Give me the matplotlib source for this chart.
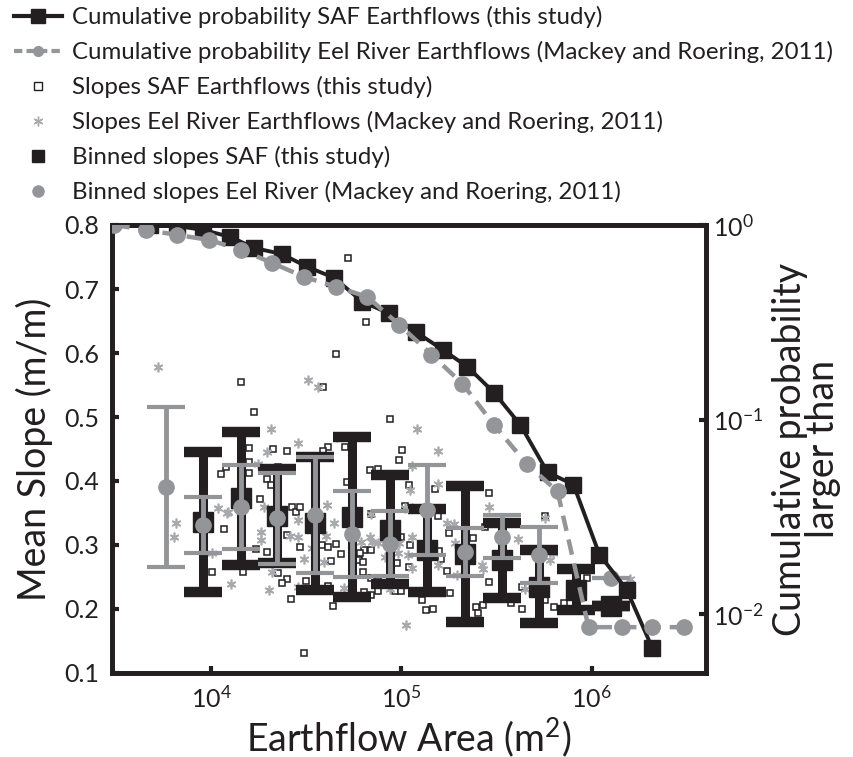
import matplotlib
matplotlib.use("Agg")
import matplotlib.pyplot as plt
from matplotlib.lines import Line2D
from matplotlib.ticker import FixedLocator, NullLocator, FormatStrFormatter

plt.rcParams['font.family'] = ['Lato', 'DejaVu Sans']
plt.rcParams['mathtext.fontset'] = 'custom'
plt.rcParams['mathtext.rm'] = 'Lato'
plt.rcParams['mathtext.it'] = 'Lato'

BLACK = '#231f20'
GRAY = '#939598'
LIGHT = '#a7a9ac'

# cumulative probability (right axis)
saf_cum_area = [4780, 6620, 9080, 12600, 16800, 23400, 32000, 44400, 62300, 85500,
                118600, 164400, 222500, 308500, 422500, 586500, 803500, 1.10e6, 1.53e6, 2.09e6]
saf_cum_p = [1.0, 0.988, 0.943, 0.868, 0.762, 0.710, 0.609, 0.535, 0.403, 0.353,
             0.283, 0.229, 0.187, 0.137, 0.094, 0.0537, 0.0464, 0.0203, 0.0134, 0.0067]

eel_cum_area = [3080, 4550, 6620, 9750, 14400, 20900, 30800, 45500, 66200, 97500,
                143800, 209400, 308500, 454800, 662000, 964000, 1.44e6, 2.09e6, 3.08e6]
eel_cum_p = [1.0, 0.943, 0.889, 0.838, 0.744, 0.638, 0.541, 0.481, 0.427, 0.307,
             0.216, 0.153, 0.0934, 0.0595, 0.0428, 0.0086, 0.0086, 0.0086, 0.0086]

# binned slopes (mean +/- std)
saf_bin_area = [9080, 14400, 22200, 35200, 55200, 87500, 137000, 215000, 336000, 526000, 824000, 1.27e6]
saf_bin_mean = [0.336, 0.373, 0.345, 0.334, 0.344, 0.324, 0.292, 0.286, 0.276, 0.235, 0.230, 0.205]
saf_bin_std = [0.109, 0.104, 0.073, 0.104, 0.125, 0.085, 0.065, 0.106, 0.059, 0.057, 0.032, 0.0]

eel_bin_area = [5800, 9080, 14400, 22200, 35200, 55200, 87500, 137000, 215000, 336000, 526000, 1.27e6]
eel_bin_mean = [0.391, 0.331, 0.359, 0.342, 0.347, 0.317, 0.302, 0.355, 0.289, 0.313, 0.284, 0.248]
eel_bin_std = [0.125, 0.044, 0.066, 0.071, 0.091, 0.067, 0.051, 0.070, 0.038, 0.034, 0.044, 0.0]

# individual earthflows
saf_area = [52600, 64700, 45000, 14400, 38800, 16800, 86500, 101000, 97500, 15700,
            21200, 25100, 41300, 38800, 50700, 15700, 12000, 11300, 15700, 22500,
            26700, 19500, 20500, 18100, 26700, 28000, 29400, 68700, 74800, 110000,
            104000, 69500, 11700, 25100, 38400, 41300, 45500, 29100, 47800, 17100,
            19700, 10100, 14600, 22500, 25100, 23400, 31300, 42800, 41300, 26100,
            43400, 63800, 60800, 69500, 60100, 63100, 62400, 100000, 111000, 109000,
            94200, 69500, 75700, 63800, 69500, 74800, 93000, 100000, 30800, 51400,
            151000, 155000, 290000, 274000, 177000, 237000, 158000, 162000, 173000, 290000,
            181000, 129000, 134000, 146000, 248000, 270000, 254000, 379000, 433000, 428000,
            566000, 631000, 712000, 942000, 566000]
saf_slope = [0.748, 0.648, 0.598, 0.555, 0.547, 0.508, 0.497, 0.448, 0.433, 0.452,
             0.450, 0.447, 0.453, 0.447, 0.453, 0.430, 0.422, 0.411, 0.412, 0.422,
             0.416, 0.403, 0.394, 0.372, 0.359, 0.352, 0.359, 0.417, 0.419, 0.394,
             0.361, 0.348, 0.325, 0.316, 0.300, 0.297, 0.302, 0.297, 0.286, 0.294,
             0.289, 0.258, 0.258, 0.256, 0.247, 0.241, 0.244, 0.275, 0.236, 0.216,
             0.205, 0.292, 0.287, 0.292, 0.277, 0.273, 0.258, 0.313, 0.300, 0.266,
             0.272, 0.248, 0.244, 0.227, 0.222, 0.228, 0.228, 0.228, 0.131, 0.398,
             0.388, 0.345, 0.381, 0.328, 0.319, 0.311, 0.291, 0.278, 0.259, 0.242,
             0.225, 0.214, 0.198, 0.200, 0.203, 0.206, 0.194, 0.209, 0.200, 0.234,
             0.345, 0.203, 0.209, 0.248, 0.214]

eel_area = [5260, 32400, 36600, 20500, 28700, 19700, 46000, 121000, 155000, 113000,
            17500, 12300, 10800, 19000, 6550, 6380, 10100, 18300, 18300, 20900,
            20000, 12700, 28700, 30800, 34000, 40800, 40300, 28400, 25800, 39300,
            44400, 67900, 70300, 74800, 69500, 81500, 95300, 108000, 113000, 104000,
            113000, 105000, 28700, 32800, 50100, 61500, 97500, 114000, 86500, 155000,
            111000, 173000, 188000, 287000, 155000, 192000, 195000, 264000, 270000, 408000,
            566000, 624000, 601000, 444000, 1.60e6, 12100]
eel_slope = [0.578, 0.558, 0.547, 0.481, 0.459, 0.445, 0.469, 0.481, 0.447, 0.423,
             0.427, 0.352, 0.358, 0.359, 0.334, 0.313, 0.288, 0.308, 0.320, 0.258,
             0.230, 0.239, 0.234, 0.278, 0.295, 0.363, 0.314, 0.313, 0.314, 0.273,
             0.334, 0.313, 0.305, 0.303, 0.348, 0.281, 0.288, 0.284, 0.313, 0.358,
             0.358, 0.175, 0.339, 0.336, 0.233, 0.305, 0.303, 0.264, 0.231, 0.395,
             0.386, 0.334, 0.333, 0.359, 0.269, 0.303, 0.253, 0.269, 0.263, 0.309,
             0.342, 0.288, 0.277, 0.231, 0.247, 0.350]

fig = plt.figure(figsize=(8.54, 7.57), dpi=100)
ax = fig.add_axes([112 / 854, 1 - 673 / 757, 594 / 854, 448 / 757])

ax.plot(saf_area, saf_slope, 's', ms=4, mfc='white', mec=BLACK, mew=1.1, zorder=2)
ax.plot(eel_area, eel_slope, marker=(6, 2, 0), ls='none', ms=7, mec=LIGHT, mew=1.2, zorder=2)

ax.errorbar(saf_bin_area, saf_bin_mean, yerr=saf_bin_std, fmt='s', color=BLACK, ms=14,
            elinewidth=6.5, capsize=14, capthick=7.5, zorder=3)
ax.errorbar(eel_bin_area, eel_bin_mean, yerr=eel_bin_std, fmt='o', color=GRAY, ms=11,
            elinewidth=3.5, capsize=14, capthick=3, zorder=4)

ax.set_xscale('log')
ax.set_xlim(3000, 4e6)
ax.set_ylim(0.1, 0.8)
ax.xaxis.set_major_locator(FixedLocator([1e4, 1e5, 1e6]))
ax.xaxis.set_minor_locator(NullLocator())
ax.set_yticks([0.1, 0.2, 0.3, 0.4, 0.5, 0.6, 0.7, 0.8])
ax.yaxis.set_major_formatter(FormatStrFormatter('%.1f'))
ax.tick_params(direction='in', length=5, width=3, labelsize=18, colors=BLACK, pad=9)
ax.set_xlabel('Earthflow Area (m$^2$)', fontsize=27, color=BLACK, labelpad=2)
ax.set_ylabel('Mean Slope (m/m)', fontsize=27, color=BLACK, labelpad=8)

ax2 = ax.twinx()
ax2.plot(saf_cum_area, saf_cum_p, '-s', color=BLACK, lw=2.8, ms=11.5, zorder=5)
ax2.plot(eel_cum_area, eel_cum_p, '--o', color=GRAY, lw=3.2, ms=11, dashes=(3.5, 2), zorder=6)
ax2.set_yscale('log')
ax2.set_ylim(0.005, 1)
ax2.yaxis.set_major_locator(FixedLocator([1e-2, 1e-1, 1]))
ax2.yaxis.set_minor_locator(NullLocator())
ax2.tick_params(direction='in', length=5, width=3, labelsize=18, colors=BLACK, pad=5)
ax2.set_ylabel('Cumulative probability\nlarger than', fontsize=27, color=BLACK,
               linespacing=0.9, labelpad=6)

for a in (ax, ax2):
    for sp in a.spines.values():
        sp.set_linewidth(3.4)
        sp.set_color(BLACK)

handles = [
    Line2D([], [], color=BLACK, lw=3, marker='s', ms=10),
    Line2D([], [], color=GRAY, lw=3, ls='--', dashes=(2, 1), marker='o', ms=7),
    Line2D([], [], ls='none', marker='s', ms=6, mfc='white', mec=BLACK, mew=1),
    Line2D([], [], ls='none', marker=(6, 2, 0), ms=7, mec=LIGHT, mew=1),
    Line2D([], [], ls='none', marker='s', ms=8, color=BLACK),
    Line2D([], [], ls='none', marker='o', ms=8, color=GRAY),
]
labels = [
    'Cumulative probability SAF Earthflows (this study)',
    'Cumulative probability Eel River Earthflows (Mackey and Roering, 2011)',
    'Slopes SAF Earthflows (this study)',
    'Slopes Eel River Earthflows (Mackey and Roering, 2011)',
    'Binned slopes SAF (this study)',
    'Binned slopes Eel River (Mackey and Roering, 2011)',
]
leg = fig.legend(handles, labels, loc='upper left', bbox_to_anchor=(14 / 854, 1 - 6 / 757),
                 frameon=False, fontsize=17.3, handlelength=2.0, handletextpad=0.4,
                 labelspacing=0.54, borderpad=0, borderaxespad=0)
for t in leg.get_texts():
    t.set_color(BLACK)

fig.savefig('out.png', dpi=100)
